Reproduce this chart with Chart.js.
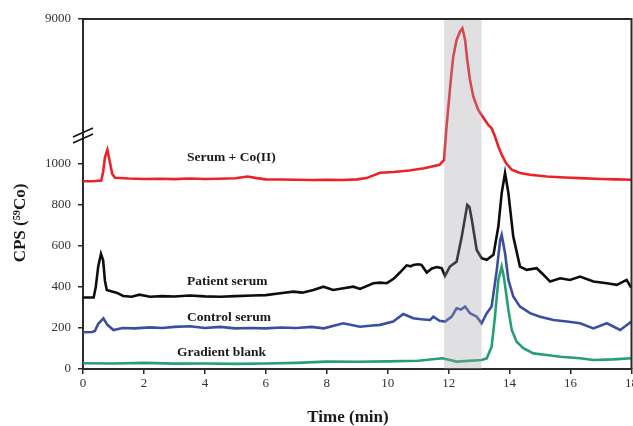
<!DOCTYPE html>
<html>
<head>
<meta charset="utf-8">
<script src="https://cdn.jsdelivr.net/npm/chart.js@4.4.1/dist/chart.umd.min.js"></script>
<style>
html,body{margin:0;padding:0;background:#fff;}
#wrap{width:633px;height:426px;position:relative;}
</style>
</head>
<body>
<div id="wrap"><canvas id="c" width="633" height="426"></canvas></div>
<script>
// ---- data (time in min, CPS) ----
const redTime = [0,0.3,0.6,0.66,0.72,0.8,0.88,0.96,1.05,1.5,2,2.5,3,3.5,4,4.5,5,5.4,5.7,6,6.5,7,7.5,8,8.5,9,9.3,9.75,10.2,10.7,11.2,11.7,11.85,11.88,11.93,11.99,12.07,12.15,12.26,12.37,12.45,12.54,12.61,12.70,12.81,12.97,13.08,13.19,13.30,13.41,13.52,13.63,13.74,13.88,14.07,14.34,14.67,15.22,15.8,16.3,17,17.5,18];
const redCps  = [915,915,918,960,1030,1068,1010,950,932,928,926,927,925,928,926,927,929,938,930,924,923,922,921,922,921,924,930,956,960,967,978,995,1019,1084,1700,3058,4867,6446,7577,8140,8370,7577,6223,4867,3735,2834,2495,2156,1818,1594,1133,1084,1044,1003,971,955,946,938,933,930,926,924,922];

const blackTime = [0,0.35,0.42,0.5,0.59,0.66,0.72,0.78,0.95,1.1,1.32,1.6,1.85,2.2,2.6,3.0,3.5,4.0,4.5,5.0,5.58,6.0,6.47,6.9,7.2,7.56,7.89,8.21,8.5,8.87,9.09,9.53,9.75,9.97,10.18,10.4,10.62,10.75,10.84,11.0,11.11,11.28,11.45,11.61,11.77,11.88,12.04,12.26,12.43,12.61,12.68,12.76,12.92,13.08,13.25,13.47,13.63,13.74,13.85,13.96,14.12,14.34,14.56,14.89,15.11,15.33,15.66,15.98,16.31,16.75,17.19,17.52,17.84,17.97,18];
const blackCps  = [348,348,400,500,561,530,430,385,378,372,356,352,362,352,355,353,358,354,352,355,358,360,369,377,372,385,401,385,392,401,390,418,421,418,438,470,505,500,507,510,507,470,490,497,491,454,499,523,645,800,790,727,580,540,532,556,694,857,955,857,645,499,483,491,459,426,442,434,450,426,418,410,434,401,400];

const blueTime = [0,0.3,0.39,0.5,0.67,0.8,1.0,1.3,1.7,2.2,2.6,3.0,3.5,4.0,4.5,5.0,5.5,6.0,6.5,7.0,7.5,7.9,8.54,9.09,9.5,9.75,10.18,10.51,10.84,11.1,11.39,11.5,11.7,11.88,12.1,12.26,12.4,12.54,12.7,12.92,13.08,13.25,13.41,13.58,13.69,13.74,13.85,13.96,14.12,14.34,14.67,15.0,15.44,15.88,16.31,16.75,17.19,17.63,18];
const blueCps  = [179,180,185,220,247,215,190,200,198,203,200,205,208,200,205,198,200,198,202,200,205,198,223,206,212,215,231,268,247,242,239,255,235,231,255,296,290,304,272,255,223,272,304,483,629,654,564,434,353,304,272,255,239,231,223,198,223,190,231];

const greenTime = [0,1,2,3,4,5,6,7,8,9,10,11,11.8,12.26,13.08,13.25,13.41,13.52,13.63,13.74,13.81,13.96,14.07,14.23,14.45,14.78,15.22,15.66,16.31,16.75,17.41,18];
const greenCps  = [28,27,30,26,27,25,27,30,36,35,37,40,52,36,44,52,109,255,434,499,450,288,190,133,101,76,68,60,52,44,47,52];

const xTicks = [0,2,4,6,8,10,12,14,16,18];
const yTicks = [0,200,400,600,800,1000,9000];
const seriesNames = ['Serum + Co(II)','Patient serum','Control serum','Gradient blank'];
const bandRange = [11.85, 13.08];
const breakValue = 1140, breakFrac = 234/350, topValue = 9000;

// ---- broken linear scale ----
class BrokenScale extends Chart.LinearScale {
  _frac(v){
    if (v <= breakValue) return v / breakValue * breakFrac;
    return breakFrac + (v - breakValue) / (topValue - breakValue) * (1 - breakFrac);
  }
  getPixelForValue(v){ return this.getPixelForDecimal(this._frac(v)); }
  getValueForPixel(p){
    const d = this.getDecimalForPixel(p);
    if (d <= breakFrac) return d / breakFrac * breakValue;
    return breakValue + (d - breakFrac) / (1 - breakFrac) * (topValue - breakValue);
  }
  buildTicks(){ return yTicks.map(v => ({value: v})); }
}
BrokenScale.id = 'broken';
BrokenScale.defaults = Chart.LinearScale.defaults;
Chart.register(BrokenScale);

const pts = (t, v) => t.map((x, i) => ({x: x, y: v[i]}));
const SERIF = '"Liberation Serif", "Times New Roman", serif';

const deco = {
  id: 'deco',
  afterDatasetsDraw(chart){
    const {ctx, chartArea: a, scales: {x, y}} = chart;
    ctx.save();
    const x0 = x.getPixelForValue(bandRange[0]), x1 = x.getPixelForValue(bandRange[1]);
    ctx.fillStyle = 'rgba(160,160,170,0.33)';
    ctx.fillRect(x0, a.top, x1 - x0, a.bottom - a.top);
    ctx.restore();
  },
  afterDraw(chart){
    const {ctx, chartArea: a, scales: {y}} = chart;
    ctx.save();
    ctx.strokeStyle = '#2b2b2b';
    ctx.lineWidth = 2;
    ctx.beginPath();
    ctx.moveTo(a.left - 1, a.top);
    ctx.lineTo(a.right, a.top);
    ctx.lineTo(a.right, a.bottom);
    ctx.stroke();
    // axis break marks
    const by = y.getPixelForValue(breakValue);
    ctx.lineWidth = 1.5;
    ctx.strokeStyle = '#111';
    ctx.beginPath();
    ctx.moveTo(a.left - 10, by + 2); ctx.lineTo(a.left + 10, by - 7);
    ctx.moveTo(a.left - 10, by + 8); ctx.lineTo(a.left + 10, by - 1);
    ctx.stroke();
    // titles
    ctx.fillStyle = '#1a1a1a';
    ctx.font = 'bold 17px ' + SERIF;
    ctx.textAlign = 'center';
    ctx.textBaseline = 'middle';
    ctx.fillText('Time (min)', 348, 418);
    ctx.save();
    ctx.translate(21, 223);
    ctx.rotate(-Math.PI / 2);
    ctx.fillText('CPS (\u2075\u2079Co)', 0, 0);
    ctx.restore();
    // series labels
    ctx.font = 'bold 13.5px ' + SERIF;
    ctx.textAlign = 'left';
    const lp = [[187,158],[187,282],[187,318],[177,353]];
    seriesNames.forEach((n, i) => ctx.fillText(n, lp[i][0], lp[i][1]));
    ctx.restore();
  }
};

const mk = (label, t, v, color) => ({
  label, data: pts(t, v), borderColor: color, borderWidth: 2.6,
  pointRadius: 0, tension: 0, fill: false
});

new Chart(document.getElementById('c'), {
  type: 'line',
  data: {
    datasets: [
      mk(seriesNames[0], redTime, redCps, '#ec2227'),
      mk(seriesNames[1], blackTime, blackCps, '#0d0d0d'),
      mk(seriesNames[2], blueTime, blueCps, '#3a4fa2'),
      mk(seriesNames[3], greenTime, greenCps, '#25a070')
    ]
  },
  options: {
    responsive: false,
    animation: false,
    layout: {padding: {top: 19, right: 1.5, left: 0, bottom: 0}},
    plugins: {legend: {display: false}, tooltip: {enabled: false}},
    scales: {
      x: {
        type: 'linear', min: 0, max: 18,
        afterBuildTicks(s){ s.ticks = xTicks.map(v => ({value: v})); },
        afterFit(s){ s.height = 57; s.paddingRight = 0; s.paddingLeft = 0; },
        grid: {drawOnChartArea: false, drawTicks: true, tickLength: 5, color: '#2b2b2b', lineWidth: 1.5},
        border: {display: true, color: '#2b2b2b', width: 2},
        ticks: {color: '#333', padding: 2, maxRotation: 0, autoSkip: false,
                font: {family: SERIF, size: 13}, callback: v => String(v)}
      },
      y: {
        type: 'broken', min: 0, max: 9000,
        afterFit(s){ s.width = 83; s.paddingTop = 0; s.paddingBottom = 0; },
        grid: {drawOnChartArea: false, drawTicks: true, tickLength: 5, color: '#2b2b2b', lineWidth: 1.5},
        border: {display: true, color: '#2b2b2b', width: 2},
        ticks: {color: '#333', padding: 7, autoSkip: false,
                font: {family: SERIF, size: 13}, callback: v => String(v)}
      }
    }
  },
  plugins: [deco]
});
</script>
</body>
</html>
